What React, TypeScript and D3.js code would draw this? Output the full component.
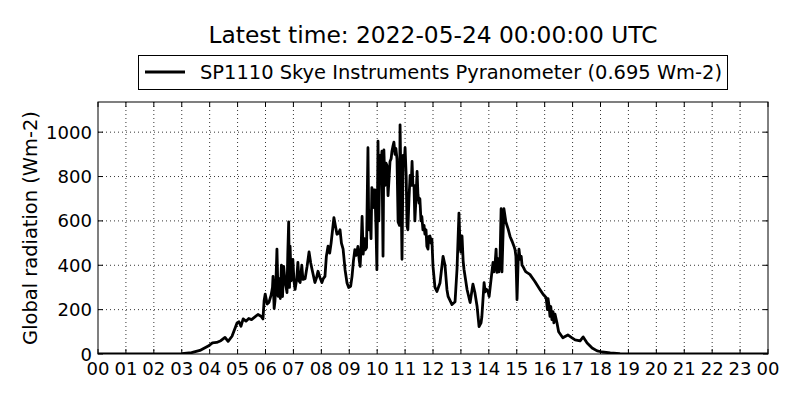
import React from 'react';
import * as d3 from 'd3';

const titleText = 'Latest time: 2022-05-24 00:00:00 UTC';
const legendText = 'SP1110 Skye Instruments Pyranometer (0.695 Wm-2)';
const yLabel = 'Global radiation (Wm-2)';

const xTickLabels = ['00','01','02','03','04','05','06','07','08','09','10','11','12','13','14','15','16','17','18','19','20','21','22','23','00'];
const yTicks = [0, 200, 400, 600, 800, 1000];

// hour of day (UTC)
const hours = [
  0, 1, 2, 2.7, 3.0, 3.35, 3.65, 3.95, 4.1, 4.25, 4.4, 4.55, 4.66, 4.8, 4.98, 5.05, 5.12, 5.2, 5.3, 5.4,
  5.5, 5.6, 5.73, 5.84, 5.91, 5.95, 5.99, 6.06, 6.12, 6.2, 6.25, 6.27, 6.31, 6.34, 6.38, 6.41, 6.45, 6.5, 6.53, 6.57,
  6.61, 6.65, 6.7, 6.77, 6.8, 6.83, 6.86, 6.88, 6.92, 6.95, 6.98, 7.02, 7.06, 7.12, 7.16, 7.2, 7.24, 7.3, 7.34, 7.42,
  7.49, 7.56, 7.62, 7.67, 7.77, 7.83, 7.88, 7.95, 8.02, 8.07, 8.13, 8.18, 8.24, 8.3, 8.35, 8.45, 8.5, 8.56, 8.62, 8.67,
  8.72, 8.78, 8.85, 8.92, 8.98, 9.05, 9.1, 9.15, 9.2, 9.25, 9.31, 9.36, 9.39, 9.43, 9.46, 9.5, 9.54, 9.58, 9.62, 9.67,
  9.7, 9.74, 9.78, 9.81, 9.85, 9.88, 9.92, 9.96, 9.99, 10.03, 10.06, 10.1, 10.14, 10.17, 10.21, 10.24, 10.28, 10.32, 10.35, 10.39,
  10.43, 10.46, 10.5, 10.53, 10.57, 10.6, 10.64, 10.67, 10.71, 10.75, 10.8, 10.82, 10.86, 10.89, 10.93, 10.97, 11.0, 11.04, 11.07, 11.1,
  11.14, 11.18, 11.22, 11.25, 11.28, 11.32, 11.35, 11.39, 11.43, 11.46, 11.5, 11.53, 11.57, 11.6, 11.64, 11.68, 11.71, 11.75, 11.78, 11.82,
  11.85, 11.89, 11.93, 11.96, 12.0, 12.07, 12.14, 12.25, 12.36, 12.43, 12.5, 12.54, 12.68, 12.79, 12.86, 12.93, 12.97, 13.0, 13.04, 13.08,
  13.11, 13.22, 13.33, 13.43, 13.5, 13.58, 13.65, 13.72, 13.75, 13.83, 13.87, 13.9, 13.97, 14.01, 14.08, 14.15, 14.18, 14.22, 14.26, 14.29,
  14.33, 14.36, 14.4, 14.44, 14.47, 14.5, 14.54, 14.61, 14.69, 14.76, 14.83, 14.9, 14.94, 14.97, 15.01, 15.05, 15.08, 15.12, 15.16, 15.19,
  15.22, 15.28, 15.33, 15.47, 15.65, 15.83, 15.95, 16.05, 16.1, 16.12, 16.16, 16.19, 16.22, 16.26, 16.3, 16.33, 16.37, 16.44, 16.5, 16.65,
  16.83, 16.98, 17.09, 17.27, 17.38, 17.52, 17.7, 17.88, 18.06, 18.35, 18.7, 19.0, 24.0,
];

// global radiation (Wm-2)
const radiation = [
  0, 0, 0, 0, 2, 6, 16, 36, 50, 52, 60, 75, 57, 80, 140, 145, 125, 158, 148, 160,
  155, 165, 178, 170, 158, 240, 270, 225, 232, 265, 300, 350, 205, 240, 350, 473, 260, 340, 250, 400,
  259, 395, 330, 277, 460, 595, 300, 486, 330, 350, 427, 330, 291, 340, 413, 330, 322, 400, 336, 340,
  395, 460, 410, 380, 322, 345, 373, 345, 322, 340, 350, 440, 486, 455, 500, 615, 580, 540, 545, 560,
  500, 473, 380, 320, 300, 305, 350, 420, 470, 445, 485, 420, 395, 500, 620, 450, 520, 470, 480, 930,
  560, 640, 520, 750, 660, 740, 740, 560, 380, 960, 600, 895, 850, 914, 441, 920, 760, 860, 850, 714,
  800, 868, 880, 914, 940, 955, 900, 927, 880, 595, 580, 1033, 700, 427, 895, 860, 930, 800, 577, 560,
  700, 805, 760, 868, 760, 760, 600, 700, 823, 720, 680, 700, 600, 620, 560, 580, 540, 560, 486, 473,
  530, 532, 500, 518, 395, 300, 282, 320, 440, 400, 290, 260, 223, 236, 382, 635, 480, 459, 532, 420,
  382, 291, 232, 315, 277, 214, 123, 140, 168, 322, 280, 293, 283, 259, 336, 413, 370, 400, 473, 368,
  430, 370, 420, 655, 370, 500, 655, 595, 564, 530, 509, 486, 470, 440, 245, 420, 473, 427, 440, 400,
  395, 380, 370, 359, 327, 291, 268, 255, 200, 250, 214, 170, 214, 155, 191, 140, 180, 141, 100, 73,
  86, 73, 64, 59, 77, 50, 27, 14, 9, 5, 2, 0.7, 0.7,
];

const FONT = '"DejaVu Sans", sans-serif';

export default function App() {
  const W = 800, H = 400;
  const left = 98, right = 768, top = 102, bottom = 354;
  const x = d3.scaleLinear().domain([0, 24]).range([left, right]);
  const y = d3.scaleLinear().domain([0, 1136]).range([bottom, top]);
  const data: [number, number][] = hours.map((h, i) => [h, radiation[i]]);
  const line = d3.line<[number, number]>().x(d => x(d[0])).y(d => y(d[1]));
  const tickLen = 5;
  const xTickVals = d3.range(0, 25);

  return (
    <svg width={W} height={H} style={{ position: 'absolute', left: 0, top: 0, background: '#fff' }} fontFamily={FONT}>
      <rect x={0} y={0} width={W} height={H} fill="#fff" />
      <defs>
        <clipPath id="plotclip">
          <rect x={left} y={top} width={right - left} height={bottom - top} />
        </clipPath>
      </defs>
      {/* grid */}
      <g stroke="#000" strokeWidth={0.8} strokeDasharray="1,3">
        {xTickVals.slice(1, 24).map(v => (
          <line key={'gx' + v} x1={x(v)} x2={x(v)} y1={top} y2={bottom} />
        ))}
        {yTicks.slice(1).map(v => (
          <line key={'gy' + v} x1={left} x2={right} y1={y(v)} y2={y(v)} />
        ))}
      </g>
      {/* data */}
      <path d={line(data) || ''} fill="none" stroke="#000" strokeWidth={2.8} strokeLinejoin="round" strokeLinecap="round" clipPath="url(#plotclip)" />
      {/* ticks */}
      <g stroke="#000" strokeWidth={1}>
        {xTickVals.map(v => (
          <g key={'tx' + v}>
            <line x1={x(v)} x2={x(v)} y1={bottom} y2={bottom - tickLen} />
            <line x1={x(v)} x2={x(v)} y1={top} y2={top + tickLen} />
          </g>
        ))}
        {yTicks.map(v => (
          <g key={'ty' + v}>
            <line x1={left} x2={left + tickLen} y1={y(v)} y2={y(v)} />
            <line x1={right} x2={right - tickLen} y1={y(v)} y2={y(v)} />
          </g>
        ))}
      </g>
      {/* frame */}
      <rect x={left} y={top} width={right - left} height={bottom - top} fill="none" stroke="#000" strokeWidth={1} />
      {/* tick labels */}
      <g fontSize={18.06} fill="#000">
        {xTickVals.map(v => (
          <text key={'lx' + v} x={x(v)} y={375} textAnchor="middle">{xTickLabels[v]}</text>
        ))}
        {yTicks.map(v => (
          <text key={'ly' + v} x={left - 6} y={y(v) + 6.5} textAnchor="end">{v}</text>
        ))}
      </g>
      {/* y label */}
      <text transform={`translate(37,${(top + bottom) / 2}) rotate(-90)`} textAnchor="middle" fontSize={19.44} fill="#000">{yLabel}</text>
      {/* title */}
      <text x={(left + right) / 2} y={43} textAnchor="middle" fontSize={23.33} fill="#000">{titleText}</text>
      {/* legend */}
      <rect x={138.5} y={55.5} width={589} height={34} fill="#fff" stroke="#000" strokeWidth={1} />
      <line x1={145} x2={185} y1={72} y2={72} stroke="#000" strokeWidth={2.8} />
      <text x={200} y={79} fontSize={19.44} fill="#000">{legendText}</text>
    </svg>
  );
}
